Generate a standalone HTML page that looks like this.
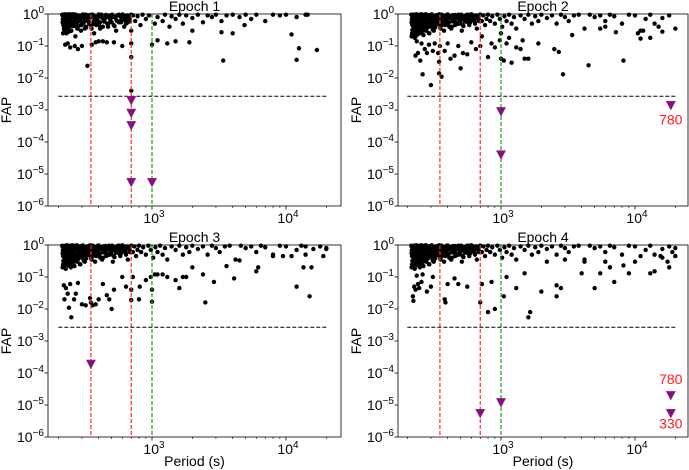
<!DOCTYPE html>
<html><head><meta charset="utf-8">
<style>
html,body{margin:0;padding:0;background:#fff;}
svg{display:block;font-family:"Liberation Sans","DejaVu Sans",sans-serif;}
</style></head>
<body>
<svg id="chart" width="689" height="470" viewBox="0 0 689 470"></svg>
<script>
// ---------- DATA ----------
const panelTitles = ["Epoch 1","Epoch 2","Epoch 3","Epoch 4"];
const yTickExps = [0,-1,-2,-3,-4,-5,-6];
const xTickExps = [3,4];
const faThreshold = 2.7e-3;
const redPeriods = [350,700];
const greenPeriods = [1000];

// dense cluster of low-significance peaks (shared shape)
const denseP = [214,216,218,220,222,224,226,228,230,232,234,236,238,240,243,246,249,252,255,258,261,264,267,270,274,278,282,286,290,295,300,305,310,316,322,328,334,340,347,354,361,368,376,384,392,400,410,420,430,440,452,464,476,490,504,518,534,550,566,584,602,620,640,660,680,700,
215,219,223,227,231,235,239,244,249,254,259,265,271,277,284,291,298,306,314,323,332,342,352,363,374,386,398,411,425,440,455,471,488,506,525,545,566,588,611,635,660,686,
217,221,225,229,233,237,242,247,252,257,263,269,275,281,288,296,304,312,320,330,340,350,361,372,384,396,409,423,437,452,468,484,501,519,538,558,579,600,623,646,
215,218,221,224,227,230,234,238,242,247,252,258,264,270,277,284,292,300,309,318,328];
const denseF = [0.95,0.7,0.45,0.85,0.3,0.6,0.9,0.4,0.75,0.97,0.55,0.35,0.8,0.65,0.92,0.5,0.3,0.75,0.98,0.6,0.42,0.85,0.7,0.95,0.5,0.35,0.8,0.62,0.9,0.45,0.75,0.97,0.55,0.85,0.4,0.68,0.92,0.5,0.78,0.35,0.95,0.6,0.82,0.45,0.7,0.97,0.55,0.85,0.4,0.72,0.93,0.5,0.8,0.62,0.95,0.45,0.75,0.9,0.55,0.82,0.97,0.65,0.5,0.88,0.7,0.95,
0.55,0.82,0.38,0.68,0.5,0.88,0.28,0.6,0.8,0.42,0.95,0.52,0.7,0.35,0.85,0.6,0.45,0.9,0.68,0.38,0.8,0.55,0.95,0.48,0.72,0.6,0.88,0.4,0.75,0.58,0.92,0.5,0.7,0.85,0.42,0.62,0.95,0.55,0.8,0.68,0.9,0.6,
0.25,0.58,0.78,0.48,0.9,0.65,0.42,0.75,0.55,0.88,0.32,0.68,0.98,0.5,0.72,0.9,0.4,0.62,0.82,0.52,0.7,0.95,0.45,0.65,0.85,0.55,0.75,0.38,0.92,0.6,0.8,0.5,0.9,0.68,0.58,0.85,0.72,0.98,0.62,0.9,
0.2,0.32,0.22,0.38,0.18,0.27,0.34,0.23,0.3,0.4,0.26,0.36,0.22,0.42,0.3,0.38,0.25,0.45,0.33,0.4,0.48];

const e1Period = [215,218,220,222,225,228,230,232,235,238,240,243,245,248,250,253,255,258,260,263,265,268,270,275,280,285,290,295,300,305,310,315,320,330,340,350,360,370,380,390,400,410,420,440,450,470,480,500,520,540,560,580,600,620,640,660,680,700,720,750,780,820,850,900,950,1050,1100,1200,1250,1350,1400,1500,1600,1700,1800,2000,2200,2400,2600,2800,3000,3300,3600,4000,4500,5000,5500,6000,7000,8000,9000,10000,12000,14000,17000,
225,235,245,265,280,300,330,355,380,400,430,460,520,600,700,700,700,1000,1100,1300,1500,1900,2000,3300,3400,4000,4900,11000,12000,12500,14500,20000];
const e1Fap = [0.9,0.6,0.35,0.98,0.8,0.5,0.25,0.97,0.95,0.7,0.4,0.99,0.55,0.85,0.3,0.65,0.9,0.45,0.75,0.97,0.55,0.2,0.95,0.7,0.4,0.85,0.6,0.3,0.9,0.5,0.75,0.35,0.95,0.6,0.8,0.45,0.9,0.25,0.7,0.5,0.85,0.35,0.95,0.6,0.75,0.4,0.9,0.55,0.8,0.3,0.9,0.6,0.75,0.4,0.9,0.55,0.8,0.3,0.9,0.6,0.85,0.45,0.95,0.7,0.9,0.5,0.8,0.6,0.95,0.4,0.85,0.7,0.95,0.5,0.9,0.75,0.95,0.55,0.9,0.8,0.95,0.6,0.9,0.95,0.8,0.95,0.7,0.95,0.6,0.95,0.9,0.95,0.8,0.95,
0.075,0.11,0.12,0.09,0.1,0.08,0.1,0.024,0.11,0.13,0.14,0.14,0.13,0.13,0.1,0.045,0.004,0.12,0.11,0.15,0.12,0.14,0.13,0.3,0.27,0.035,0.25,0.45,0.23,0.037,0.085,0.95];

const e2Period = [215,217,219,221,223,225,227,229,231,233,235,237,240,242,245,248,250,253,256,260,263,266,270,274,278,282,286,290,295,300,305,310,315,320,326,332,338,345,352,360,368,376,385,395,405,415,425,435,445,455,465,480,495,510,525,540,560,580,600,620,640,660,680,700,720,740,760,780,800,830,860,900,940,980,1020,1060,1100,1150,1200,1250,1300,1400,1500,1600,1700,1800,1900,2000,2200,2400,2600,2800,3000,3200,3500,3800,4200,4600,5000,5500,6000,6500,7000,8000,9000,10000,11000,12000,13000,14000,16000,18000,20000,
220,230,235,240,250,255,260,270,280,290,300,310,320,340,345,345,350,360,380,400,420,450,480,500,520,560,600,650,700,720,800,850,900,980,1000,1000,1050,1100,1150,1200,1300,1400,1450,1500,1600,1900,2500,2700,2900,3400,4500,5500,6000,7200,8200,10500,11000,11500,13000,15000,16000];
const e2Fap = [0.95,0.5,0.8,0.3,0.65,0.9,0.4,0.7,0.2,0.98,0.55,0.85,0.35,0.6,0.95,0.25,0.75,0.45,0.9,0.6,0.3,0.85,0.5,0.97,0.4,0.7,0.9,0.25,0.65,0.95,0.45,0.8,0.3,0.6,0.9,0.5,0.75,0.98,0.4,0.65,0.9,0.3,0.7,0.95,0.5,0.8,0.35,0.6,0.9,0.45,0.75,0.95,0.55,0.3,0.85,0.65,0.95,0.45,0.75,0.9,0.55,0.35,0.8,0.95,0.6,0.9,0.45,0.7,0.95,0.6,0.85,0.5,0.95,0.7,0.4,0.85,0.6,0.95,0.5,0.8,0.35,0.9,0.7,0.95,0.5,0.85,0.6,0.95,0.75,0.9,0.5,0.95,0.8,0.6,0.9,0.95,0.35,0.95,0.8,0.9,0.6,0.95,0.85,0.5,0.95,0.9,0.3,0.7,0.95,0.5,0.75,0.9,0.35,0.95,
0.05,0.14,0.06,0.035,0.12,0.013,0.08,0.06,0.11,0.006,0.07,0.12,0.06,0.032,0.014,0.1,0.011,0.07,0.12,0.04,0.05,0.1,0.02,0.06,0.055,0.13,0.08,0.1,0.2,0.045,0.12,0.09,0.15,0.04,0.25,0.035,0.12,0.18,0.03,0.09,0.08,0.15,0.04,0.04,0.12,0.08,0.065,0.013,0.22,0.025,0.35,0.4,0.27,0.035,0.25,0.17,0.3,0.18,0.4,0.28,0.45];

const e3Period = [215,217,219,221,223,225,227,229,231,233,235,237,240,242,245,248,250,253,256,260,263,266,270,274,278,282,286,290,295,300,305,310,315,320,326,332,338,345,352,360,368,376,385,395,405,415,425,435,445,455,465,480,495,510,525,540,560,580,600,620,640,660,680,700,720,740,760,780,800,830,860,900,940,980,1020,1060,1100,1150,1200,1250,1300,1400,1500,1600,1700,1800,1900,2000,2200,2400,2600,2800,3000,3200,3500,3800,4200,4600,5000,5500,6000,6500,7000,8000,9000,10000,11000,12000,13000,14000,16000,18000,20000,
220,222,228,235,240,245,250,262,270,280,300,320,345,350,360,380,400,430,460,480,500,520,600,640,700,700,720,800,810,900,980,1000,1000,1050,1100,1200,1300,1500,1600,1700,1800,2000,2400,2500,2900,3600,4100,4500,6000,6200,8000,9500,12000,13500,14000,15000,15500,20000,19000];
const e3Fap = [0.9,0.45,0.75,0.3,0.6,0.95,0.4,0.7,0.25,0.98,0.55,0.85,0.35,0.65,0.95,0.2,0.75,0.45,0.9,0.6,0.3,0.85,0.5,0.97,0.4,0.7,0.9,0.25,0.65,0.95,0.45,0.8,0.3,0.6,0.9,0.5,0.75,0.98,0.4,0.65,0.9,0.3,0.7,0.95,0.5,0.8,0.35,0.6,0.9,0.45,0.75,0.95,0.55,0.3,0.85,0.65,0.95,0.45,0.75,0.9,0.55,0.35,0.8,0.95,0.6,0.9,0.45,0.7,0.95,0.6,0.85,0.5,0.95,0.7,0.4,0.85,0.6,0.95,0.5,0.8,0.35,0.9,0.7,0.95,0.5,0.85,0.6,0.95,0.75,0.9,0.5,0.95,0.8,0.6,0.9,0.95,0.35,0.95,0.8,0.9,0.6,0.95,0.85,0.5,0.95,0.9,0.45,0.7,0.95,0.5,0.75,0.9,0.8,
0.055,0.02,0.045,0.03,0.011,0.06,0.0055,0.02,0.03,0.065,0.014,0.013,0.022,0.016,0.013,0.014,0.02,0.06,0.027,0.02,0.01,0.04,0.1,0.05,0.019,0.04,0.1,0.02,0.05,0.08,0.1,0.017,0.04,0.12,0.12,0.12,0.1,0.08,0.045,0.1,0.1,0.2,0.12,0.016,0.07,0.22,0.09,0.33,0.15,0.2,0.45,0.45,0.05,0.2,0.9,0.025,0.2,0.75,0.45];

const e4Period = [215,217,219,221,223,225,227,229,231,233,235,237,240,242,245,248,250,253,256,260,263,266,270,274,278,282,286,290,295,300,305,310,315,320,326,332,338,345,352,360,368,376,385,395,405,415,425,435,445,455,465,480,495,510,525,540,560,580,600,620,640,660,680,700,720,740,760,780,800,830,860,900,940,980,1020,1060,1100,1150,1200,1250,1300,1400,1500,1600,1700,1800,1900,2000,2200,2400,2600,2800,3000,3200,3500,3800,4200,4600,5000,5500,6000,6500,7000,8000,9000,10000,11000,12000,13000,14000,16000,18000,20000,
220,222,225,230,235,240,245,255,260,280,300,310,380,385,400,450,480,560,700,720,800,850,900,1050,1100,1300,1500,1600,1650,2000,2200,2600,2600,2800,3000,4000,4200,5000,5500,6000,6500,7000,8200,9000,10000,13000,14000,15500,16000,17500,18000,19000,20000];
const e4Fap = [0.9,0.45,0.75,0.3,0.6,0.95,0.4,0.7,0.25,0.98,0.55,0.85,0.35,0.65,0.95,0.2,0.75,0.45,0.9,0.6,0.3,0.85,0.5,0.97,0.4,0.7,0.9,0.25,0.65,0.95,0.45,0.8,0.3,0.6,0.9,0.5,0.75,0.98,0.4,0.65,0.9,0.3,0.7,0.95,0.5,0.8,0.35,0.6,0.9,0.45,0.75,0.95,0.55,0.3,0.85,0.65,0.95,0.45,0.75,0.9,0.55,0.35,0.8,0.95,0.6,0.9,0.45,0.7,0.95,0.6,0.85,0.5,0.95,0.7,0.4,0.85,0.6,0.95,0.5,0.8,0.35,0.9,0.7,0.95,0.5,0.85,0.6,0.95,0.75,0.9,0.5,0.95,0.8,0.6,0.9,0.95,0.35,0.95,0.8,0.9,0.6,0.95,0.85,0.5,0.95,0.9,0.45,0.7,0.95,0.5,0.75,0.9,0.8,
0.025,0.018,0.05,0.04,0.11,0.06,0.045,0.07,0.12,0.035,0.05,0.1,0.02,0.016,0.06,0.09,0.06,0.05,0.016,0.06,0.008,0.07,0.01,0.025,0.1,0.045,0.13,0.0055,0.008,0.035,0.3,0.055,0.025,0.045,0.35,0.13,0.3,0.045,0.13,0.3,0.2,0.07,0.23,0.13,0.3,0.13,0.15,0.45,0.4,0.3,0.2,0.6,0.45];

// how many of the dense-cluster points each epoch shows (epoch 1 is sparser)
const denseCount = [110,171,171,171];

const triPeriods = [[700,700,700,700,1000],[1000,1000,18500],[350],[700,1000,18500,18500]];
const triFaps = [[2e-3,8e-4,3.3e-4,5.5e-6,5.5e-6],[9e-4,4e-5,1.4e-3],[1.9e-4],[5.5e-6,1.2e-5,2e-5,5.5e-6]];
const annoText = [[],["780"],[],["780","330"]];
const annoPeriod = [[],[18500],[],[18500,18500]];
const annoFap = [[],[5e-4],[],[6.5e-5,2.6e-6]];

// ---------- LAYOUT ----------
const panels = [
  {x0:48,x1:341,y0:14,y1:206,dx3:152,xl:false},
  {x0:398,x1:688,y0:14,y1:206,dx3:501,xl:false},
  {x0:48,x1:341,y0:245,y1:437,dx3:152,xl:true},
  {x0:398,x1:688,y0:245,y1:437,dx3:501,xl:true}
];
const periodsAll=[e1Period,e2Period,e3Period,e4Period];
const fapsAll=[e1Fap,e2Fap,e3Fap,e4Fap];
const NS="http://www.w3.org/2000/svg";
const svg=document.getElementById('chart');
function mk(tag,attrs,parent){const e=document.createElementNS(NS,tag);for(const k in attrs)e.setAttribute(k,attrs[k]);(parent||svg).appendChild(e);return e;}
const FS='14', SFS='10';

panels.forEach(function(p,pi){
  const dec=134;
  const xs=function(v){return p.dx3+dec*(Math.log10(v)-3);};
  const ys=function(v){return p.y0-(p.y1-p.y0)/6*Math.log10(v);};
  const g=mk('g',{});
  
  

  const t=mk('text',{x:(p.x0+p.x1)/2,y:p.y0-3,'text-anchor':'middle','font-size':FS},g);
  t.textContent=panelTitles[pi];
  
  

  yTickExps.forEach(function(e){
    const y=ys(Math.pow(10,e));
    mk('line',{x1:p.x0-3.5,x2:p.x0,y1:y,y2:y,stroke:'#000','stroke-width':0.8},g);
    const tx=mk('text',{x:p.x0-4,y:y+5,'text-anchor':'end','font-size':FS},g);
    
    
    tx.innerHTML='10<tspan dy="-6" font-size="'+SFS+'">'+(e<0?'\u2212'+(-e):e)+'</tspan>';
  });
  [200,300,400,500,600,700,800,900,2000,3000,4000,5000,6000,7000,8000,9000,20000].forEach(function(v){
    const x=xs(v); if(x<p.x0||x>p.x1)return;
    mk('line',{x1:x,x2:x,y1:p.y1,y2:p.y1+2,stroke:'#000','stroke-width':0.6},g);
  });
  xTickExps.forEach(function(e){
    const x=xs(Math.pow(10,e));
    mk('line',{x1:x,x2:x,y1:p.y1,y2:p.y1+3.5,stroke:'#000','stroke-width':0.8},g);
    const tx=mk('text',{x:x+2,y:p.y1+17,'text-anchor':'middle','font-size':FS},g);
    
    
    tx.innerHTML='10<tspan dy="-6" font-size="'+SFS+'">'+e+'</tspan>';
  });
  const yl=mk('text',{x:0,y:0,'text-anchor':'middle','font-size':FS,transform:'translate('+(p.x0-37)+','+((p.y0+p.y1)/2)+') rotate(-90)'},g);
  yl.textContent='FAP';
  
  
  if(p.xl){
    const xl=mk('text',{x:(p.x0+p.x1)/2,y:p.y1+29,'text-anchor':'middle','font-size':FS},g);
    xl.textContent='Period (s)';
    
    
  }
  const P=periodsAll[pi],F=fapsAll[pi];
  for(let i=0;i<Math.min(P.length,F.length);i++){
    const c=mk('circle',{cx:xs(P[i]),cy:ys(F[i]),r:2.2,fill:'#000'},g);
    
    
  }
  for(let i=0;i<Math.min(denseCount[pi],denseP.length);i++){
    const c=mk('circle',{cx:xs(denseP[i]),cy:ys(denseF[i]),r:2.2,fill:'#000'},g);
    
    
  }
  redPeriods.forEach(function(v){
    const l=mk('line',{x1:xs(v),x2:xs(v),y1:p.y0,y2:p.y1,stroke:'#ff3030','stroke-width':1.2,'stroke-dasharray':'4,2'},g);
    
    
  });
  greenPeriods.forEach(function(v){
    const l=mk('line',{x1:xs(v),x2:xs(v),y1:p.y0,y2:p.y1,stroke:'#1a9a1a','stroke-width':1.2,'stroke-dasharray':'4,2'},g);
    
    
  });
  const th=mk('line',{x1:xs(200),x2:xs(20000),y1:ys(faThreshold),y2:ys(faThreshold),stroke:'#000','stroke-width':1,'stroke-dasharray':'4,2'},g);
  
  
  triPeriods[pi].forEach(function(v,i){
    const x=xs(v),y=ys(triFaps[pi][i]);
    const tr=mk('path',{d:'M'+(x-4.5)+','+(y-4)+'L'+(x+4.5)+','+(y-4)+'L'+x+','+(y+4.5)+'Z',fill:'#7d1480',stroke:'#a0207a','stroke-width':0.6},g);
    
    
  });
  annoText[pi].forEach(function(s,i){
    const tx=mk('text',{x:xs(annoPeriod[pi][i]),y:ys(annoFap[pi][i])+5,'text-anchor':'middle','font-size':FS,fill:'#ff1a1a'},g);
    tx.textContent=s;
    
    
  });
  const fr=mk('rect',{x:p.x0,y:p.y0,width:p.x1-p.x0,height:p.y1-p.y0,fill:'none',stroke:'#000','stroke-width':0.8},g);
  
  
});
</script>
</body></html>
